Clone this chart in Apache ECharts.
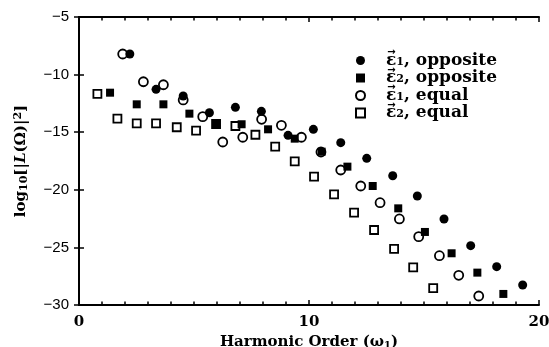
<!DOCTYPE html>
<html><head><meta charset="utf-8">
<script src="https://cdn.jsdelivr.net/npm/echarts@6/dist/echarts.min.js"></script>
<style>html,body{margin:0;padding:0;background:#fff}#c{width:549px;height:347px}</style>
</head><body><div id="c"></div>
<script>
// Data (x: harmonic order, y: log10 intensity)
const e1OppositeX = [2.21,3.35,4.53,5.67,6.80,7.93,9.09,10.19,11.38,12.51,13.64,14.71,15.87,17.03,18.16,19.29];
const e1OppositeY = [-8.21,-11.28,-11.86,-13.31,-12.84,-13.19,-15.27,-14.75,-15.91,-17.27,-18.78,-20.54,-22.53,-24.85,-26.67,-28.26];
const e2OppositeX = [1.35,2.51,3.67,4.80,5.96,7.07,8.22,9.38,10.55,11.67,12.77,13.88,15.04,16.20,17.32,18.45];
const e2OppositeY = [-11.57,-12.58,-12.58,-13.39,-14.23,-14.31,-14.75,-15.56,-16.69,-17.99,-19.67,-21.61,-23.66,-25.51,-27.19,-29.04];
const e1EqualX = [1.90,2.80,3.67,4.53,5.38,6.25,7.12,7.94,8.80,9.67,10.52,11.38,12.25,13.09,13.93,14.77,15.67,16.51,17.38];
const e1EqualY = [-8.21,-10.62,-10.88,-12.20,-13.65,-15.85,-15.44,-13.88,-14.40,-15.44,-16.72,-18.28,-19.67,-21.12,-22.53,-24.07,-25.72,-27.42,-29.22];
const e2EqualX = [0.80,1.67,2.51,3.35,4.25,5.09,5.96,6.80,7.67,8.53,9.38,10.22,11.09,11.96,12.83,13.70,14.53,15.40];
const e2EqualY = [-11.68,-13.83,-14.23,-14.23,-14.57,-14.87,-14.29,-14.46,-15.22,-16.26,-17.53,-18.86,-20.39,-21.99,-23.49,-25.12,-26.74,-28.54];
const seriesNames = ['e1o','e2o','e1e','e2e'];
const legendLabels = {e1o:['1','opposite'], e2o:['2','opposite'], e1e:['1','equal'], e2e:['2','equal']};
const xTicks = [0,10,20];
const yTicks = [-5,-10,-15,-20,-25,-30];

const zip = (xs, ys) => xs.map((x,i)=>[x, ys[i]]);
const chart = echarts.init(document.getElementById('c'));
const serif = '"DejaVu Serif", serif';
const axisCommon = {
  type:'value', axisLine:{show:true, lineStyle:{color:'#000', width:2}},
  axisTick:{show:true, inside:true, length:5, lineStyle:{color:'#000', width:1.5}},
  splitLine:{show:false}
};
const legendTop = 52, legendRow = 17.5, firstRowCenter = 60.5;
const arrows = seriesNames.map((n, i) => ({
  type:'text', silent:true, z:100, zlevel:1,
  style:{text:'→', x:391.5, y:firstRowCenter + i*legendRow - 8, align:'center', verticalAlign:'middle',
         font:'bold 10px "DejaVu Sans", sans-serif', fill:'#000'}
}));
chart.setOption({
  animation:false,
  backgroundColor:'#fff',
  grid:{left:79, right:10, top:17, bottom:42, containLabel:false, outerBoundsMode:'none'},
  legend:{
    orient:'vertical', left:355, top:legendTop, padding:0, itemWidth:9, itemHeight:9, itemGap:0.5,
    data:seriesNames,
    formatter: n => '{e|ε}{s|' + legendLabels[n][0] + '}{t|, ' + legendLabels[n][1] + '}',
    textStyle:{
      padding:[0,0,0,16],
      rich:{
        e:{fontFamily:serif, fontWeight:'bold', fontSize:17, color:'#000', lineHeight:14},
        s:{fontFamily:serif, fontWeight:'bold', fontSize:11, color:'#000', verticalAlign:'bottom', lineHeight:14},
        t:{fontFamily:serif, fontWeight:'bold', fontSize:17, color:'#000', lineHeight:14}
      }
    }
  },
  graphic: {elements: arrows},
  xAxis:[
    Object.assign({}, axisCommon, {
      min:0, max:20, interval:10, position:'bottom',
      minorTick:{show:true, splitNumber:10, length:3.5, lineStyle:{color:'#000', width:1.5}},
      axisLabel:{fontFamily:serif, fontWeight:'bold', fontSize:15, color:'#000', margin:10,
                 formatter: v => xTicks.includes(v) ? String(v) : ''},
      name:'{a|Harmonic Order (ω}{s|1}{a|)}', nameLocation:'middle', nameGap:26,
      nameTextStyle:{verticalAlign:'top', rich:{
        a:{fontFamily:serif, fontWeight:'bold', fontSize:15, color:'#000'},
        s:{fontFamily:serif, fontWeight:'bold', fontSize:10, color:'#000', verticalAlign:'bottom', padding:[6,0,0,0]}
      }}
    }),
    Object.assign({}, axisCommon, {
      min:0, max:20, interval:10, position:'top',
      minorTick:{show:true, splitNumber:10, length:3.5, lineStyle:{color:'#000', width:1.5}},
      axisLabel:{show:false}
    })
  ],
  yAxis:[
    Object.assign({}, axisCommon, {
      min:-30, max:-5, interval:5, position:'left',
      axisLabel:{fontFamily:'"Liberation Sans", sans-serif', fontSize:15, color:'#000', margin:10,
                 formatter: v => yTicks.includes(v) ? String(v).replace('-', '−') : ''},
      name:'{a|log}{s|10}{a|[|}{i|L}{a|(Ω)|}{p|2}{a|]}', nameLocation:'middle', nameGap:49,
      nameTextStyle:{padding:[0,0,0,0], rich:{
        a:{fontFamily:serif, fontWeight:'bold', fontSize:15, color:'#000'},
        i:{fontFamily:serif, fontWeight:'bold', fontStyle:'italic', fontSize:15, color:'#000'},
        s:{fontFamily:serif, fontWeight:'bold', fontSize:11, color:'#000', padding:[6,0,0,0]},
        p:{fontFamily:serif, fontWeight:'bold', fontSize:11, color:'#000', padding:[0,0,6,0]}
      }}
    }),
    Object.assign({}, axisCommon, {
      min:-30, max:-5, interval:5, position:'right', axisLabel:{show:false}
    })
  ],
  series:[
    {name:'e1o', type:'scatter', z:4, symbol:'circle', symbolSize:9,
     itemStyle:{color:'#000', opacity:1}, data:zip(e1OppositeX, e1OppositeY)},
    {name:'e2o', type:'scatter', z:4, symbol:'rect', symbolSize:8,
     itemStyle:{color:'#000', opacity:1}, data:zip(e2OppositeX, e2OppositeY)},
    {name:'e1e', type:'scatter', z:3, symbol:'circle', symbolSize:9,
     itemStyle:{color:'#fff', borderColor:'#000', borderWidth:1.8, opacity:1}, data:zip(e1EqualX, e1EqualY)},
    {name:'e2e', type:'scatter', z:3, symbol:'rect', symbolSize:8,
     itemStyle:{color:'#fff', borderColor:'#000', borderWidth:1.8, opacity:1}, data:zip(e2EqualX, e2EqualY)}
  ]
});
</script></body></html>
